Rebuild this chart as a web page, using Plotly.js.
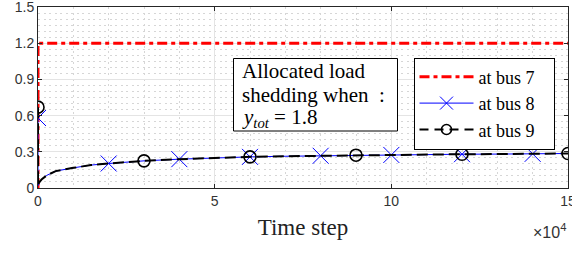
<!DOCTYPE html>
<html>
<head>
<meta charset="utf-8">
<script src="https://cdn.plot.ly/plotly-3.0.1.min.js"></script>
<style>html,body{margin:0;padding:0;background:#fff;}#chart{width:572px;height:253px;}</style>
</head>
<body>
<div id="chart"></div>
<script>
// Data
const bus7X = [0, 0, 150000];
const bus7Y = [0, 1.2, 1.2];

const curveX = [0, 1, 300, 1000, 2500, 5000, 10000, 15000, 20000, 30000, 40000, 50000, 60000, 70000, 80000, 90000, 100000, 110000, 120000, 130000, 140000, 150000];
const bus8Y  = [0.58, 0.02, 0.045, 0.07, 0.105, 0.14, 0.167, 0.19, 0.203, 0.225, 0.239, 0.25, 0.258, 0.263, 0.267, 0.272, 0.274, 0.277, 0.28, 0.281, 0.283, 0.286];
const bus9Y  = [0.67, 0.02, 0.045, 0.07, 0.105, 0.14, 0.167, 0.19, 0.203, 0.225, 0.239, 0.25, 0.258, 0.263, 0.267, 0.272, 0.274, 0.277, 0.28, 0.281, 0.283, 0.286];

const bus8MarkerX = [0, 20000, 40000, 60000, 80000, 100000, 120000, 140000];
const bus9MarkerX = [0, 30000, 60000, 90000, 120000, 150000];

const xTickVals = [0, 50000, 100000, 150000];
const xTickText = ['0', '5', '10', '15'];
const yTickVals = [0, 0.3, 0.6, 0.9, 1.2, 1.5];
const yTickText = ['0', '0.3', '0.6', '0.9', '1.2', '1.5'];

const seriesNames = ['at bus 7', 'at bus 8', 'at bus 9'];
const boxLines = ['Allocated load', 'shedding when', ':', '<i>y</i><sub><i>tot</i></sub> = 1.8'];
const xAxisTitle = 'Time step';
const xExponent = '×10<sup>4</sup>';

// helpers
function pick(xs, ys, wanted) {
  return wanted.map(w => ys[xs.indexOf(w)]);
}
const L = 38, T = 7, W = 530, H = 181;
const px = p => (p - L) / W;
const py = p => (T + H - p) / H;

const serif = 'Liberation Serif, Times New Roman, serif';
const sans = 'Liberation Sans, Arial, sans-serif';

const red = {color: '#ff0000', width: 3, dash: '10px,4px,4px,4px'};
const blue = {color: '#0000ff', width: 1};
const black = {color: '#000000', width: 2, dash: '11px,5px'};
const xMarker = {symbol: 'x-thin-open', size: 16, color: '#0000ff', line: {color: '#0000ff', width: 1}};
const oMarker = {symbol: 'circle-open', size: 12, color: '#000000', line: {color: '#000000', width: 1.6}};
const pad = '\u00a0\u00a0\u00a0';

const traces = [
  {x: bus7X, y: bus7Y, mode: 'lines', line: red, showlegend: false},
  {x: curveX, y: bus8Y, mode: 'lines', line: blue, showlegend: false},
  {x: bus8MarkerX, y: pick(curveX, bus8Y, bus8MarkerX), mode: 'markers', marker: xMarker, showlegend: false},
  {x: curveX, y: bus9Y, mode: 'lines', line: black, showlegend: false},
  {x: bus9MarkerX, y: pick(curveX, bus9Y, bus9MarkerX), mode: 'markers', marker: oMarker, showlegend: false},
  // legend entries
  {x: [null], y: [null], name: seriesNames[0] + pad, mode: 'lines', line: red},
  {x: [null], y: [null], name: seriesNames[1] + pad, mode: 'lines+markers', line: blue, marker: Object.assign({}, xMarker, {size: 13})},
  {x: [null], y: [null], name: seriesNames[2] + pad, mode: 'lines+markers', line: {color: '#000000', width: 2, dash: '9px,6px'}, marker: Object.assign({}, oMarker, {size: 10})}
];

const minorGrid = {showgrid: true, gridcolor: '#d6d6d6', griddash: '2px,3.5px', gridwidth: 1, ticks: ''};

const layout = {
  width: 572, height: 253,
  margin: {l: L, r: 572 - L - W, t: T, b: 253 - T - H},
  paper_bgcolor: '#ffffff', plot_bgcolor: '#ffffff',
  showlegend: true,
  legend: {
    x: px(413.5), y: py(57.5), xanchor: 'left', yanchor: 'top',
    bgcolor: '#ffffff', bordercolor: '#000000', borderwidth: 1,
    font: {family: serif, size: 18, color: '#000000'},
    itemwidth: 54, traceorder: 'normal', tracegroupgap: 0
  },
  xaxis: {
    range: [0, 150000], tickmode: 'array', tickvals: xTickVals, ticktext: xTickText,
    ticks: 'inside', ticklen: 4, tickcolor: '#262626', mirror: 'allticks',
    showline: true, linecolor: '#262626', linewidth: 1, ticklabeloverflow: 'allow',
    showgrid: true, gridcolor: '#e4e4e4', gridwidth: 1, zeroline: false,
    minor: Object.assign({dtick: 10000}, minorGrid),
    tickfont: {family: sans, size: 14, color: '#333333'},
    title: {text: xAxisTitle, font: {family: serif, size: 23, color: '#222222'}, standoff: 11}
  },
  yaxis: {
    range: [0, 1.5], tickmode: 'array', tickvals: yTickVals, ticktext: yTickText,
    ticks: 'inside', ticklen: 4, tickcolor: '#262626', mirror: 'allticks',
    showline: true, linecolor: '#262626', linewidth: 1, ticklabeloverflow: 'allow',
    showgrid: true, gridcolor: '#e4e4e4', gridwidth: 1, zeroline: false,
    minor: Object.assign({dtick: 0.05}, minorGrid),
    tickfont: {family: sans, size: 14, color: '#333333'}
  },
  shapes: [
    {type: 'rect', xref: 'paper', yref: 'paper', x0: px(233.5), x1: px(397.5), y0: py(131), y1: py(58.5),
     line: {color: '#000000', width: 1}, fillcolor: '#ffffff', layer: 'above'}
  ],
  annotations: [
    {xref: 'paper', yref: 'paper', x: px(240), y: py(71), xanchor: 'left', yanchor: 'middle',
     text: boxLines[0], showarrow: false, font: {family: serif, size: 21, color: '#000000'}},
    {xref: 'paper', yref: 'paper', x: px(240), y: py(94.5), xanchor: 'left', yanchor: 'middle',
     text: boxLines[1], showarrow: false, font: {family: serif, size: 21, color: '#000000'}},
    {xref: 'paper', yref: 'paper', x: px(382), y: py(94.5), xanchor: 'center', yanchor: 'middle',
     text: boxLines[2], showarrow: false, font: {family: serif, size: 21, color: '#000000'}},
    {xref: 'paper', yref: 'paper', x: px(240), y: py(118), xanchor: 'left', yanchor: 'middle',
     text: boxLines[3], showarrow: false, font: {family: serif, size: 21, color: '#000000'}},
    {xref: 'paper', yref: 'paper', x: px(568), y: py(231), xanchor: 'right', yanchor: 'middle',
     text: xExponent, showarrow: false, font: {family: sans, size: 16, color: '#333333'}}
  ]
};

Plotly.newPlot('chart', traces, layout, {staticPlot: true, displayModeBar: false});
</script>
</body>
</html>
